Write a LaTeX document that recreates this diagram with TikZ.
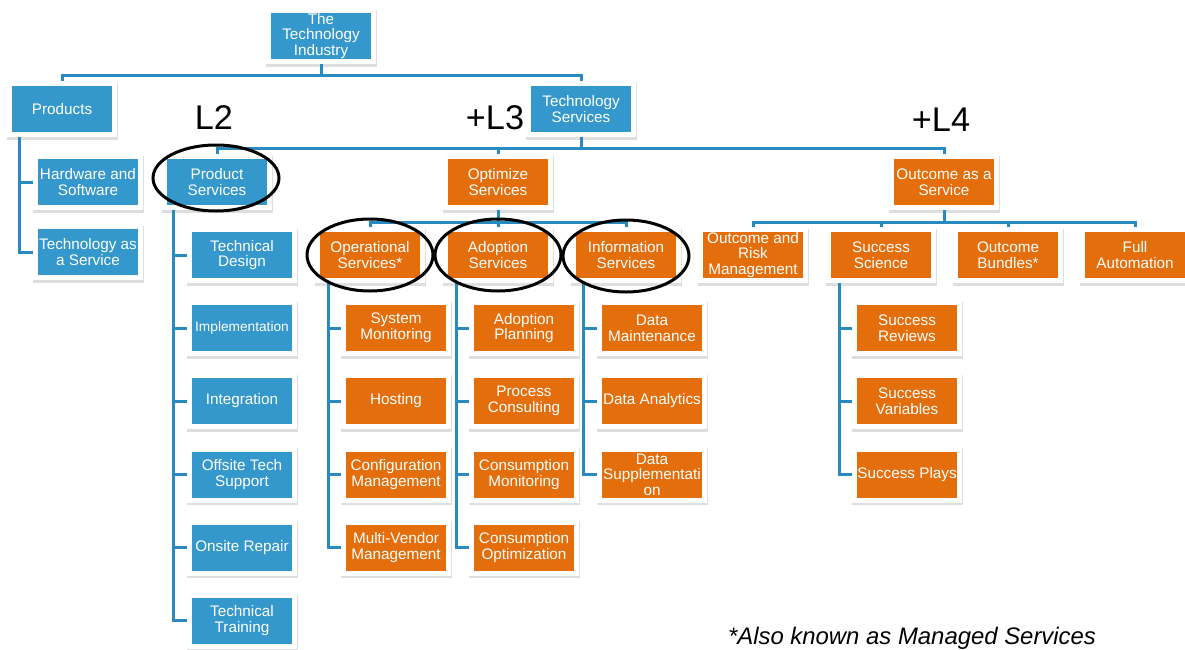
\documentclass[tikz,border=0pt]{standalone}
\usepackage{fontspec}
\setmainfont{Liberation Sans}
\usetikzlibrary{calc}
\newdimen\upx \upx=0.02cm
\definecolor{tblue}{RGB}{52,152,204}
\definecolor{torange}{RGB}{228,110,12}
\definecolor{tline}{RGB}{40,138,190}
\tikzset{
 box/.style={minimum width=105\upx, minimum height=51\upx, inner sep=0pt, align=center, text=white,
   font=\fontsize{8.7}{8.9}\selectfont, draw=white, line width=5\upx,
   preaction={fill=black!13, draw=black!13, line width=6\upx, transform canvas={yshift=-2\upx}}},
 bbox/.style={box, fill=tblue},
 obox/.style={box, fill=torange},
 conn/.style={draw=tline, line width=3\upx},
 ring/.style={draw=black, line width=3\upx},
 lvl/.style={font=\fontsize{19.5}{20}\selectfont, inner sep=0pt},
}
\begin{document}
\begin{tikzpicture}[x=0.02cm, y=-0.02cm]
\useasboundingbox (0,0) rectangle (1185,649);
% level 0-1
\node[bbox] (root) at (321,36) {The\\Technology\\Industry};
\node[bbox] (prod) at (62,109) {Products};
\node[bbox] (tsvc) at (581,109) {Technology\\Services};
% products children
\node[bbox] (hw) at (88,182) {Hardware and\\Software};
\node[bbox] (taas) at (88,252) {Technology as\\a Service};
% level 2
\node[bbox] (psvc) at (217,182) {Product\\Services};
\node[obox] (opt) at (498,182) {Optimize\\Services};
\node[obox] (oaas) at (944,182) {Outcome as a\\Service};
% product services children
\node[bbox] (td) at (242,255) {Technical\\Design};
\node[bbox, font=\fontsize{7.8}{8}\selectfont] (impl) at (242,328) {Implementation};
\node[bbox] (integ) at (242,401) {Integration};
\node[bbox] (offs) at (242,474.5) {Offsite Tech\\Support};
\node[bbox] (onsite) at (242,547.5) {Onsite Repair};
\node[bbox] (train) at (242,620.5) {Technical\\Training};
% optimize children
\node[obox] (ops) at (370,255) {Operational\\Services*};
\node[obox] (ados) at (498,255) {Adoption\\Services};
\node[obox] (info) at (626,255) {Information\\Services};
% operational children
\node[obox] (sysmon) at (396,328) {System\\Monitoring};
\node[obox] (host) at (396,401) {Hosting};
\node[obox] (conf) at (396,474.5) {Configuration\\Management};
\node[obox] (mv) at (396,547.5) {Multi-Vendor\\Management};
% adoption children
\node[obox] (adpl) at (524,328) {Adoption\\Planning};
\node[obox] (proc) at (524,401) {Process\\Consulting};
\node[obox] (cmon) at (524,474.5) {Consumption\\Monitoring};
\node[obox] (copt) at (524,547.5) {Consumption\\Optimization};
% information children
\node[obox] (dmain) at (652,328) {Data\\Maintenance};
\node[obox] (dana) at (652,401) {Data Analytics};
\node[obox] (dsup) at (652,474.5) {Data\\Supplementati\\on};
% outcome children
\node[obox] (orm) at (753,255) {Outcome and\\Risk\\Management};
\node[obox] (ssci) at (881,255) {Success\\Science};
\node[obox] (obun) at (1008,255) {Outcome\\Bundles*};
\node[obox] (fauto) at (1135,255) {Full\\Automation};
% success children
\node[obox] (srev) at (907,328) {Success\\Reviews};
\node[obox] (svar) at (907,401) {Success\\Variables};
\node[obox] (splay) at (907,474.5) {Success Plays};

% connectors
\draw[conn] (root.south) -- ++(0,11) coordinate (j1);
\draw[conn] (prod.north) |- (j1) -| (tsvc.north);
\draw[conn] (tsvc.south) -- ++(0,11) coordinate (j2);
\draw[conn] (psvc.north) |- (j2) -| (oaas.north);
\draw[conn] (j2) -| (opt.north);
\draw[conn] (opt.south) -- ++(0,12) coordinate (j3);
\draw[conn] (ops.north) |- (j3) -| (info.north);
\draw[conn] (j3) -- (ados.north);
\draw[conn] (oaas.south) -- ++(0,12) coordinate (j4);
\draw[conn] (orm.north) |- (j4) -| (fauto.north);
\draw[conn] (ssci.north) -- (ssci.north |- j4);
\draw[conn] (obun.north) -- (obun.north |- j4);
% rails
\foreach \c in {hw,taas} \draw[conn] ($(prod.south)+(-43,0)$) |- (\c.west);
\foreach \c in {td,impl,integ,offs,onsite,train} \draw[conn] ($(psvc.south)+(-44,0)$) |- (\c.west);
\foreach \c in {sysmon,host,conf,mv} \draw[conn] ($(ops.south)+(-42,0)$) |- (\c.west);
\foreach \c in {adpl,proc,cmon,copt} \draw[conn] ($(ados.south)+(-42,0)$) |- (\c.west);
\foreach \c in {dmain,dana,dsup} \draw[conn] ($(info.south)+(-43,0)$) |- (\c.west);
\foreach \c in {srev,svar,splay} \draw[conn] ($(ssci.south)+(-42,0)$) |- (\c.west);

% ellipses
\draw[ring] (216,178) ellipse [x radius=63, y radius=33];
\draw[ring] (370,255) ellipse [x radius=63, y radius=36];
\draw[ring] (498,255) ellipse [x radius=63, y radius=36];
\draw[ring] (626,256) ellipse [x radius=63, y radius=36];

% labels
\node[lvl] (l2) at (214,118) {L2};
\node[lvl] (l3) at (495,118) {+L3};
\node[lvl] (l4) at (941,120) {+L4};
\node[font=\itshape\fontsize{13.6}{14}\selectfont, anchor=base, inner sep=0pt] (note) at (912,644) {*Also known as Managed Services};
\end{tikzpicture}
\end{document}
